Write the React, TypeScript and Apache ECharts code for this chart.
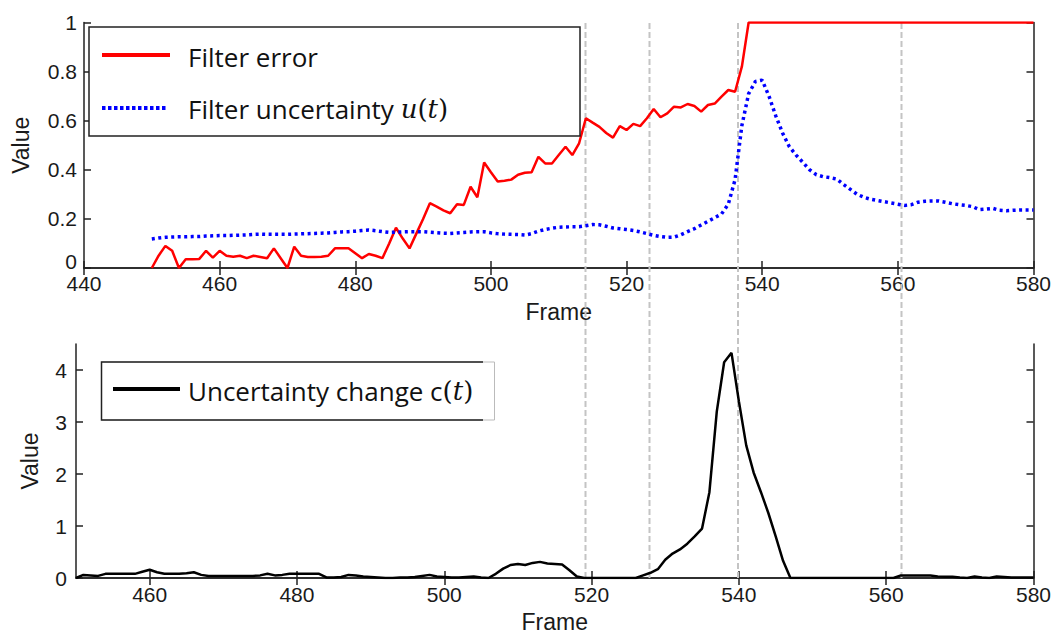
import React, { useEffect, useRef } from "react";
import * as echarts from "echarts";

// Frames 450..580 (one sample per frame)
const frames: number[] = Array.from({ length: 131 }, (_, i) => 450 + i);

const filterError: number[] = [
  0, 0.05, 0.09, 0.07, 0, 0.036, 0.036, 0.037, 0.07, 0.042,
  0.07, 0.05, 0.046, 0.05, 0.04, 0.05, 0.045, 0.04, 0.08, 0.04,
  0, 0.087, 0.05, 0.045, 0.045, 0.046, 0.05, 0.08, 0.08, 0.08,
  0.06, 0.04, 0.057, 0.05, 0.04, 0.1, 0.164, 0.12, 0.08, 0.14,
  0.2, 0.264, 0.25, 0.235, 0.223, 0.26, 0.257, 0.331, 0.288, 0.43,
  0.39, 0.352, 0.355, 0.36, 0.38, 0.388, 0.39, 0.453, 0.426, 0.426,
  0.46, 0.494, 0.46, 0.508, 0.61, 0.592, 0.575, 0.55, 0.531, 0.578,
  0.562, 0.587, 0.578, 0.61, 0.648, 0.614, 0.63, 0.657, 0.654, 0.668,
  0.66, 0.637, 0.664, 0.67, 0.698, 0.725, 0.718, 0.82, 1,
  1, 1, 1, 1, 1, 1, 1, 1, 1, 1,
  1, 1, 1, 1, 1, 1, 1, 1, 1, 1,
  1, 1, 1, 1, 1, 1, 1, 1, 1, 1,
  1, 1, 1, 1, 1, 1, 1, 1, 1, 1,
  1, 1,
];

const filterUncertainty: number[] = [
  0.118, 0.122, 0.125, 0.126, 0.127, 0.127, 0.128, 0.128, 0.13, 0.131,
  0.132, 0.132, 0.133, 0.134, 0.135, 0.137, 0.138, 0.137, 0.137, 0.137,
  0.137, 0.138, 0.139, 0.14, 0.141, 0.142, 0.143, 0.145, 0.147, 0.148,
  0.15, 0.153, 0.155, 0.152, 0.148, 0.145, 0.146, 0.147, 0.148, 0.148,
  0.148, 0.146, 0.144, 0.142, 0.141, 0.143, 0.145, 0.147, 0.148, 0.148,
  0.143, 0.14, 0.138, 0.137, 0.136, 0.134, 0.14, 0.15, 0.157, 0.162,
  0.166, 0.167, 0.168, 0.168, 0.172, 0.177, 0.176, 0.17, 0.163, 0.16,
  0.157, 0.153, 0.147, 0.14, 0.133, 0.128, 0.125, 0.126, 0.135, 0.148,
  0.16, 0.175, 0.19, 0.205, 0.22, 0.26, 0.36, 0.58, 0.71, 0.76,
  0.765, 0.7, 0.62, 0.55, 0.494, 0.46, 0.43, 0.4, 0.38, 0.372,
  0.368, 0.362, 0.34, 0.32, 0.3, 0.288, 0.28, 0.275, 0.27, 0.265,
  0.26, 0.255, 0.258, 0.268, 0.272, 0.273, 0.273, 0.268, 0.262, 0.258,
  0.255, 0.25, 0.238, 0.24, 0.243, 0.235, 0.233, 0.235, 0.236, 0.236,
  0.236,
];

const uncertaintyChange: number[] = [
  0, 0.06, 0.05, 0.04, 0.08, 0.08, 0.08, 0.08, 0.08, 0.12,
  0.158, 0.11, 0.08, 0.08, 0.08, 0.09, 0.11, 0.06, 0.04, 0.04,
  0.04, 0.04, 0.04, 0.04, 0.04, 0.05, 0.08, 0.05, 0.06, 0.08,
  0.08, 0.08, 0.08, 0.08, 0.01, 0.01, 0.02, 0.06, 0.05, 0.03,
  0.02, 0.01, 0, 0, 0.01, 0.01, 0.02, 0.04, 0.06, 0.03,
  0.02, 0.01, 0.01, 0.02, 0.03, 0.01, 0, 0.08, 0.18, 0.25,
  0.27, 0.25, 0.29, 0.31, 0.28, 0.27, 0.26, 0.15, 0.03, 0,
  0, 0, 0, 0, 0, 0, 0, 0.05, 0.1, 0.17,
  0.35, 0.47, 0.55, 0.66, 0.8, 0.95, 1.65, 3.2, 4.15, 4.33,
  3.4, 2.55, 2.03, 1.65, 1.25, 0.8, 0.33, 0, 0, 0,
  0, 0, 0, 0, 0, 0, 0, 0, 0, 0,
  0, 0, 0.05, 0.05, 0.05, 0.05, 0.05, 0.03, 0.025, 0.025,
  0.01, 0, 0.03, 0.01, 0, 0.03, 0.02, 0.01, 0.01, 0.01,
  0.01,
];

const topXTicks: number[] = [440, 460, 480, 500, 520, 540, 560, 580];
const bottomXTicks: number[] = [460, 480, 500, 520, 540, 560, 580];
const bottomYTicks: number[] = [0, 1, 2, 3, 4];

const AX = "#222";
const SANS = "'Liberation Sans', Arial, Helvetica, sans-serif";
const LEG = "'Open Sans', 'Noto Sans', sans-serif";
const SERIF = "'DejaVu Serif', 'Liberation Serif', serif";

function App() {
  const ref = useRef<HTMLDivElement>(null);
  useEffect(() => {
    if (!ref.current) return;
    const chart = echarts.init(ref.current, undefined, { renderer: "svg" });

    const axisLine = { show: true, lineStyle: { color: AX, width: 1.5 } };
    const tick = { show: true, inside: true, length: 7, lineStyle: { color: AX, width: 1.5 } };
    const label = { fontSize: 21, color: "#1a1a1a", fontFamily: SANS };
    const nameStyle = { fontSize: 23, color: "#1a1a1a", fontFamily: SANS };

    const option: any = {
      animation: false,
      grid: [
        { left: 84, right: 19, top: 22.5, height: 245.5 },
        { left: 76, right: 17, top: 344, height: 236 },
      ],
      xAxis: [
        {
          gridIndex: 0, type: "value", min: 440, max: 580, interval: 20, position: "bottom",
          name: "Frame", nameLocation: "middle", nameGap: 32, nameTextStyle: nameStyle,
          axisLine, axisTick: { ...tick, customValues: topXTicks },
          axisLabel: { ...label, margin: 5, customValues: topXTicks }, splitLine: { show: false },
        },
        {
          gridIndex: 0, type: "value", min: 440, max: 580, interval: 20, position: "top",
          axisLine, axisTick: { ...tick, customValues: topXTicks }, axisLabel: { show: false }, splitLine: { show: false },
        },
        {
          gridIndex: 1, type: "value", min: 450, max: 580, interval: 10, position: "bottom",
          name: "Frame", nameLocation: "middle", nameGap: 32, nameTextStyle: nameStyle,
          axisLine, axisTick: { ...tick, customValues: bottomXTicks },
          axisLabel: { ...label, margin: 6, customValues: bottomXTicks }, splitLine: { show: false },
        },
        {
          gridIndex: 1, type: "value", min: 450, max: 580, interval: 10, position: "top",
          axisLine, axisTick: { ...tick, customValues: bottomXTicks }, axisLabel: { show: false }, splitLine: { show: false },
        },
      ],
      yAxis: [
        {
          gridIndex: 0, type: "value", min: 0, max: 1, interval: 0.2, position: "left",
          name: "Value", nameLocation: "middle", nameGap: 52, nameRotate: 90, nameTextStyle: nameStyle,
          axisLine, axisTick: tick,
          axisLabel: {
            ...label, margin: 7,
            formatter: (v: number) => (v === 0 ? "{z|0}" : String(v)),
            rich: { z: { fontSize: 21, lineHeight: 18, color: "#1a1a1a", fontFamily: SANS, padding: [0, 0, 13, 0] } },
          },
          splitLine: { show: false },
        },
        {
          gridIndex: 0, type: "value", min: 0, max: 1, interval: 0.2, position: "right",
          axisLine, axisTick: tick, axisLabel: { show: false }, splitLine: { show: false },
        },
        {
          gridIndex: 1, type: "value", min: 0, max: 4.5, interval: 0.5, position: "left",
          name: "Value", nameLocation: "middle", nameGap: 35, nameRotate: 90, nameTextStyle: nameStyle,
          axisLine, axisTick: { ...tick, customValues: bottomYTicks },
          axisLabel: { ...label, margin: 9, customValues: bottomYTicks }, splitLine: { show: false },
        },
        {
          gridIndex: 1, type: "value", min: 0, max: 4.5, interval: 0.5, position: "right",
          axisLine, axisTick: { ...tick, customValues: bottomYTicks }, axisLabel: { show: false }, splitLine: { show: false },
        },
      ],
      series: [
        {
          name: "Filter error", type: "line", xAxisIndex: 0, yAxisIndex: 0,
          data: frames.map((f, i) => [f, filterError[i]]),
          showSymbol: false, lineStyle: { color: "#ff0000", width: 2.5 }, z: 3,
        },
        {
          name: "Filter uncertainty", type: "line", xAxisIndex: 0, yAxisIndex: 0,
          data: frames.map((f, i) => [f, filterUncertainty[i]]),
          showSymbol: false, lineStyle: { color: "#0000ff", width: 3.5, type: [3, 3.5] }, z: 3,
        },
        {
          name: "Uncertainty change", type: "line", xAxisIndex: 2, yAxisIndex: 2,
          data: frames.map((f, i) => [f, uncertaintyChange[i]]),
          showSymbol: false, lineStyle: { color: "#000000", width: 2.5 }, z: 3,
        },
      ],
      graphic: [
        // vertical dashed event markers spanning both panels
        ...[585.5, 649.5, 738, 901.5].map((x) => ({
          type: "line", z: 1, silent: true,
          shape: { x1: x, y1: 23, x2: x, y2: 579 },
          style: { stroke: "#c4c4c4", lineWidth: 2, lineDash: [6, 3] },
        })),
        // top legend
        {
          type: "rect", z: 100, shape: { x: 89, y: 27, width: 491, height: 109 },
          style: { fill: "#ffffff", stroke: "#222", lineWidth: 1.5 },
        },
        {
          type: "line", z: 101, shape: { x1: 102, y1: 55, x2: 170, y2: 55 },
          style: { stroke: "#ff0000", lineWidth: 4 },
        },
        {
          type: "text", z: 101, x: 188, y: 57,
          style: { text: "Filter error", font: `26px ${LEG}`, fill: "#111", verticalAlign: "middle" },
        },
        {
          type: "line", z: 101, shape: { x1: 102, y1: 108, x2: 167, y2: 108 },
          style: { stroke: "#0000ff", lineWidth: 4, lineDash: [3.5, 2.5] },
        },
        {
          type: "text", z: 101, x: 188, y: 109,
          style: {
            text: "Filter uncertainty {m|u}{p|(}{m|t}{p|)}",
            font: `26px ${LEG}`, fill: "#111", verticalAlign: "middle",
            rich: {
              m: { fontFamily: SERIF, fontStyle: "italic", fontSize: 26, fill: "#111" },
              p: { fontFamily: SERIF, fontSize: 26, fill: "#111" },
            },
          },
        },
        // bottom legend
        {
          type: "rect", z: 100, shape: { x: 101.5, y: 362, width: 393, height: 58 },
          style: { fill: "#ffffff", stroke: "#bbb", lineWidth: 1 },
        },
        {
          type: "polyline", z: 101, shape: { points: [[483, 362], [101.5, 362], [101.5, 420], [483, 420]] },
          style: { stroke: "#222", lineWidth: 1.5, fill: null },
        },
        {
          type: "line", z: 101, shape: { x1: 113, y1: 389, x2: 180, y2: 389 },
          style: { stroke: "#000", lineWidth: 4 },
        },
        {
          type: "text", z: 101, x: 188, y: 391,
          style: {
            text: "Uncertainty change c{p|(}{m|t}{p|)}",
            font: `26px ${LEG}`, fill: "#111", verticalAlign: "middle",
            rich: {
              m: { fontFamily: SERIF, fontStyle: "italic", fontSize: 26, fill: "#111" },
              p: { fontFamily: SERIF, fontSize: 26, fill: "#111" },
            },
          },
        },
      ],
    };
    chart.setOption(option);
    return () => chart.dispose();
  }, []);
  return (
    <div
      ref={ref}
      style={{ position: "fixed", left: 0, top: 0, width: 1054, height: 634, background: "#fff" }}
    />
  );
}

export default App;
